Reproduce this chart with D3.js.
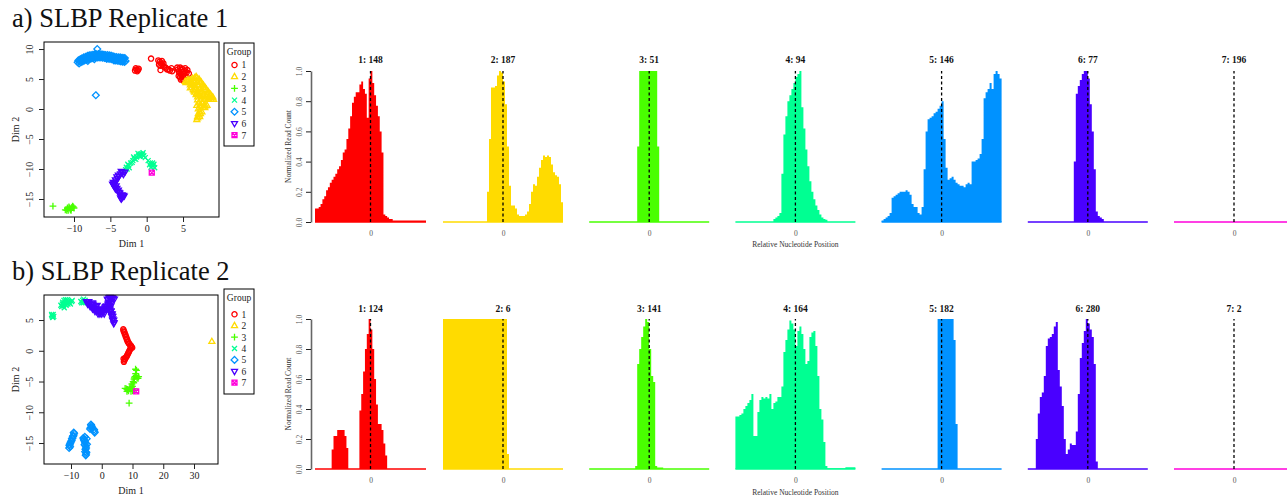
<!DOCTYPE html>
<html>
<head>
<meta charset="utf-8">
<script src="https://cdn.jsdelivr.net/npm/d3@7"></script>
<style>
  body { margin: 0; background: #fff; }
  svg { display: block; }
  svg text { font-family: "Liberation Serif", "Times New Roman", "DejaVu Serif", serif; }
</style>
</head>
<body>
<svg id="fig" width="1287" height="498" font-family="Liberation Serif, Times New Roman, serif"></svg>
<script>
// ---------------- data ----------------
const groups = ["1", "2", "3", "4", "5", "6", "7"];
const groupColors = ["#FF0000", "#FFDB00", "#49FF00", "#00FF92", "#0092FF", "#4900FF", "#FF00DB"];
const groupSymbols = [1, 2, 3, 4, 5, 6, 7]; // R pch codes

const panelTitles = ["a) SLBP Replicate 1", "b) SLBP Replicate 2"];
const rep1Sizes = [148, 187, 51, 94, 146, 77, 196];
const rep2Sizes = [124, 6, 141, 164, 182, 280, 2];

const histTickLabels = [0];
const histYTicks = [0, 0.2, 0.4, 0.6, 0.8, 1.0];
const rep1XTicks = [-10, -5, 0, 5];
const rep1YTicks = [-15, -10, -5, 0, 5, 10];
const rep2XTicks = [-10, 0, 10, 20, 30];
const rep2YTicks = [-15, -10, -5, 0, 5];

// MDS coordinates, replicate 1 (one list per group)
const rep1Points = [
  [[-1.6,6.4],[-1.4,6.6],[-1.2,6.5],[-1.5,6.8],[-1.1,6.7],[-1.3,6.3],[0.6,8.4],[1.8,7.9],[2.0,7.6],[1.7,7.4],[2.2,7.3],[1.9,6.5],
   [2.6,6.9],[3.0,6.6],[3.5,6.3],[4.3,6.6],[4.6,6.9],[4.9,6.7],[5.2,6.4],[5.5,6.1],[5.8,5.9],[4.5,6.0],[4.8,5.6],[4.9,5.0],[5.1,4.7],[4.6,5.3],
   [1.6,8.1],[2.1,8.0],[2.3,7.6],[1.9,7.2],[2.4,7.0],[2.8,6.6],[3.2,6.4],[3.4,6.8],[4.2,6.9],[4.4,6.3],[4.7,6.5],[5.0,6.2],
   [5.3,6.8],[5.6,6.5],[5.1,5.9],[4.7,5.8],[5.3,5.6],[4.4,5.5],[4.7,4.9],[5.0,5.3]],
  [[5.3,4.6],[5.8,4.8],[6.3,5.1],[6.8,5.4],[7.2,5.0],[7.5,4.5],[7.8,4.0],[8.1,3.5],[8.4,3.0],[8.7,2.5],[9.0,2.0],[9.2,1.6],[8.6,1.6],
   [8.0,1.8],[7.5,2.2],[6.9,2.6],[6.5,3.0],[6.8,3.6],[7.3,3.3],[7.6,2.8],[6.2,4.2],[6.0,3.5],[7.0,1.5],[7.3,0.6],[7.8,0.3],[7.1,0.0],
   [7.6,-0.5],[7.2,-1.0],[7.0,-1.5],[6.9,-1.8],[8.1,0.5],[8.9,1.9],[6.6,4.6],
   [6.6,5.2],[6.9,5.2],[5.6,4.8],[6.0,4.8],[6.4,4.8],[7.2,4.8],[5.4,4.4],[5.9,4.4],[6.3,4.4],[7.0,4.4],[7.4,4.4],
   [6.0,4.0],[6.4,4.0],[7.1,4.0],[7.6,4.0],[6.2,3.6],[6.6,3.6],[7.8,3.6],[8.0,3.6],[6.4,3.2],[6.7,3.2],[7.0,3.2],[8.2,3.2],
   [6.6,2.8],[7.0,2.8],[7.4,2.8],[8.5,2.8],[6.8,2.4],[7.2,2.4],[7.8,2.4],[8.3,2.4],[8.8,2.4],[7.0,2.0],[7.6,2.0],[8.2,2.0],
   [8.6,2.0],[9.1,2.0],[7.4,1.6],[8.0,1.6],[8.4,1.6],[8.9,1.6],[7.2,1.0],[7.6,1.0],[6.9,0.6],[7.5,0.6],[7.9,0.6],[8.3,0.6],
   [7.4,0.2],[8.0,0.2],[7.3,-0.4],[7.1,-0.8],[7.4,-0.8],[7.0,-1.3],[7.3,-1.3]],
  [[-12.9,-16.2],[-11.2,-16.8],[-10.9,-16.6],[-10.6,-16.5],[-10.3,-16.4],[-10.0,-16.5],[-10.5,-16.8],[-10.2,-16.2],[-10.8,-16.9],
   [-10.7,-16.3],[-10.4,-16.6],[-10.1,-16.3],[-10.9,-16.5],[-11.0,-16.9],[-10.4,-16.9]],
  [[-2.8,-9.7],[-2.5,-9.4],[-2.2,-9.0],[-1.9,-8.6],[-1.7,-8.3],[-1.4,-8.0],[-1.1,-7.7],[-0.9,-7.5],[-0.6,-7.6],[-0.4,-7.8],
   [-0.2,-8.1],[0.2,-8.6],[0.5,-9.0],[0.7,-9.3],[0.9,-9.5],[1.1,-9.8],[-2.9,-10.1],
   [-2.7,-10.0],[-2.4,-9.8],[-2.6,-9.2],[-2.0,-8.9],[-1.8,-8.0],[-1.5,-8.4],[-1.2,-7.4],[-0.8,-7.9],[-0.5,-7.3],[-1.0,-7.9],
   [0.4,-9.3],[0.8,-9.0],[1.0,-9.2],[0.6,-9.7]],
  [[-9.5,7.8],[-9.2,8.0],[-8.9,8.2],[-8.6,8.3],[-8.3,8.5],[-8.0,8.6],[-7.7,8.7],[-7.4,8.6],[-7.1,8.8],[-6.8,8.7],[-6.5,8.9],
   [-6.2,8.8],[-5.9,8.9],[-5.6,8.7],[-5.3,8.8],[-5.0,8.6],[-4.7,8.5],[-4.4,8.4],[-4.1,8.3],[-3.8,8.5],[-3.5,8.4],[-3.2,8.2],
   [-3.0,8.5],[-2.9,8.0],[-3.3,8.0],[-8.1,8.0],[-7.2,8.3],[-5.5,8.4],[-4.5,8.1],[-6.8,10.0],[-7.0,2.3],
   [-9.4,8.1],[-9.15,8.3],[-8.9,8.45],[-8.65,8.6],[-8.4,8.7],[-8.15,8.85],[-7.9,8.95],[-7.65,9.0],[-7.4,9.05],[-7.15,9.1],
   [-6.9,9.1],[-6.65,9.15],[-6.4,9.1],[-6.15,9.1],[-5.9,9.05],[-5.65,9.0],[-5.4,9.0],[-5.15,8.95],[-4.9,8.9],[-4.65,8.8],
   [-4.4,8.7],[-4.15,8.65],[-3.9,8.6],[-3.65,8.6],[-3.4,8.55],[-3.15,8.5],
   [-9.3,7.6],[-9.05,7.8],[-8.8,7.95],[-8.55,8.1],[-8.3,8.2],[-8.05,8.3],[-7.8,8.4],[-7.55,8.45],[-7.3,8.5],[-7.05,8.55],
   [-6.8,8.6],[-6.55,8.6],[-6.3,8.6],[-6.05,8.55],[-5.8,8.5],[-5.55,8.45],[-5.3,8.4],[-5.05,8.35],[-4.8,8.3],[-4.55,8.2],
   [-4.3,8.1],[-4.05,8.05],[-3.8,8.0],[-3.55,7.95],[-3.3,7.9],[-3.05,7.85]],
  [[-3.0,-10.5],[-3.3,-10.6],[-3.6,-10.8],[-3.8,-11.2],[-4.0,-11.6],[-4.2,-12.0],[-4.4,-12.4],[-4.5,-12.8],[-4.3,-13.3],
   [-4.0,-13.7],[-3.7,-14.0],[-3.4,-14.3],[-3.3,-14.7],[-3.5,-15.0],[-4.6,-12.6],[-3.9,-13.5],
   [-3.2,-10.9],[-3.5,-10.4],[-3.9,-11.0],[-4.1,-11.3],[-4.3,-11.8],[-4.6,-12.2],[-4.7,-12.5],[-4.2,-12.8],[-4.4,-13.0],
   [-4.1,-13.2],[-3.8,-13.9],[-3.6,-14.4],[-3.2,-14.4],[-3.4,-14.7],[-3.6,-14.8],[-3.1,-14.5]],
  [[0.7,-10.6]]
];

// MDS coordinates, replicate 2 (one list per group)
const rep2Points = [
  [[7.0,3.5],[7.2,3.1],[7.5,2.7],[7.8,2.3],[8.1,1.9],[8.4,1.5],[8.8,1.2],[9.3,0.9],[9.7,0.6],[9.2,0.2],[8.8,-0.2],[8.4,-0.6],
   [8.0,-1.0],[7.6,-1.3],[7.3,-1.6],
   [7.1,3.3],[7.4,3.0],[7.7,2.6],[8.0,2.2],[8.3,1.8],[8.6,1.4],[9.0,1.1],[9.5,0.8],[9.9,0.5],[9.4,0.4],[9.0,0.0],[8.6,-0.4],
   [8.2,-0.8],[7.8,-1.1],[7.5,-1.4],[7.2,-1.8],[7.1,-1.3]],
  [[35.8,1.5]],
  [[11.3,-3.2],[11.0,-3.7],[10.8,-4.2],[10.5,-4.6],[11.5,-4.4],[12.0,-4.2],[10.2,-5.0],[9.8,-5.4],[9.5,-5.9],[9.0,-6.2],
   [8.4,-6.3],[7.6,-6.1],[8.2,-6.6],[10.0,-6.5],[8.9,-8.5],
   [11.0,-3.0],[11.2,-4.0],[10.6,-4.4],[11.8,-4.5],[10.4,-5.2],[10.0,-5.8],[9.2,-6.0],[8.7,-6.5],[9.5,-6.6],[8.0,-6.2],[10.5,-6.2]],
  [[-16.2,5.7],[-15.8,5.9],[-16.0,5.5],[-15.6,5.6],[-16.3,5.9],[-15.9,5.4],
   [-13.0,7.2],[-12.5,7.5],[-12.0,7.8],[-11.5,8.1],[-12.2,7.0],[-11.0,7.6],[-10.5,7.8],[-9.8,8.0],[-11.8,8.3],[-12.8,7.6],
   [-13.3,7.4],[-12.7,7.9],[-12.3,8.2],[-11.6,7.4],[-11.2,8.3],[-10.8,8.0],[-10.2,7.6],[-9.6,8.2],[-12.4,7.3],
   [-6.8,8.0],[-6.2,8.2],[-5.6,8.0],[-6.0,7.8],[-6.5,7.8],[-5.9,8.4],[-5.4,8.2]],
  [[-10.5,-15.4],[-10.2,-15.0],[-9.8,-14.6],[-9.5,-14.2],[-9.2,-13.8],[-9.0,-13.5],[-10.6,-15.8],[-6.0,-14.2],[-5.7,-14.6],
   [-5.4,-15.0],[-5.2,-15.5],[-5.3,-16.0],[-5.0,-16.5],[-5.2,-17.0],[-5.5,-14.0],[-4.9,-14.3],[-3.5,-12.0],[-3.2,-12.4],
   [-3.8,-12.7],[-2.3,-13.3],[-2.5,-12.8],
   [-10.4,-15.2],[-10.0,-14.8],[-9.7,-14.3],[-9.4,-13.9],[-9.1,-13.3],[-10.3,-15.6],[-5.8,-14.4],[-5.5,-14.8],[-5.6,-15.3],
   [-5.1,-15.8],[-5.4,-16.4],[-5.1,-16.8],[-4.8,-15.2],[-3.4,-12.2],[-3.6,-12.5],[-2.4,-13.1],[-3.0,-12.6]],
  [[-5.0,8.0],[-4.5,7.8],[-4.0,7.6],[-3.5,7.3],[-3.0,7.1],[-2.5,6.9],[-2.0,6.7],[-1.5,6.5],[-1.0,6.5],[-0.5,6.2],[0.0,6.4],
   [0.5,6.7],[1.0,7.0],[1.5,7.3],[2.0,7.6],[2.5,7.0],[3.0,6.5],[3.3,5.8],[3.6,5.2],[4.0,4.6],[2.0,8.3],[2.8,8.5],[3.5,8.6],
   [2.4,7.9],[-3.0,7.8],[-1.5,7.4],[0.8,6.0],[3.0,7.3],
   [-4.8,8.0],[-4.2,8.0],[-4.6,7.6],[-4.0,7.6],[-3.4,7.6],[-2.8,7.6],[-3.8,7.2],[-3.2,7.2],[-2.6,7.2],[-2.0,7.2],[1.2,7.2],
   [1.8,7.2],[2.4,7.2],[-3.0,6.8],[-2.4,6.8],[-1.8,6.8],[-1.2,6.8],[0.3,6.8],[0.9,6.8],[1.5,6.8],[2.1,6.8],[2.7,6.8],
   [-2.2,6.4],[-1.6,6.4],[-1.0,6.4],[-0.4,6.4],[0.2,6.4],[0.8,6.4],[2.6,6.4],[3.0,6.4],[-1.2,6.0],[-0.6,6.0],[0.0,6.0],
   [3.0,6.0],[3.4,6.0],[3.2,5.6],[3.6,5.6],[3.5,5.0],[3.9,5.0],[3.9,4.4],[1.8,8.4],[2.3,8.6],[2.7,8.7],[3.2,8.6],[3.7,8.5],
   [4.1,8.4],[2.2,7.8],[2.6,7.8],[3.1,7.8]],
  [[11.2,-6.6]]
];

// Normalized read count per position bin (60 bins, centred on 0), replicate 1
const rep1Counts = [
  [0.09,0.09,0.10,0.12,0.15,0.17,0.21,0.23,0.26,0.28, 0.30,0.32,0.35,0.37,0.41,0.46,0.48,0.55,0.62,0.70,
   0.79,0.83,0.86,0.86,0.91,0.93,0.88,0.85,0.69,0.95, 1.00,0.92,0.84,0.77,0.70,0.60,0.46,0.05,0.04,0.03,
   0.02,0.02,0.01,0.01,0.01,0.01,0.01,0.01,0.01,0.01, 0.01,0.01,0.01,0.01,0.01,0.01,0.01,0.01,0.01,0.01],
  [0,0,0,0,0,0,0,0,0,0, 0,0,0,0,0,0,0,0,0,0,
   0,0,0.20,0.55,0.89,0.89,0.90,0.97,1.00,0.99, 0.93,0.78,0.50,0.24,0.11,0.11,0.09,0.05,0.04,0.04,
   0.04,0.05,0.07,0.12,0.20,0.25,0.24,0.30,0.36,0.41, 0.44,0.43,0.44,0.43,0.38,0.33,0.31,0.30,0.25,0.13],
  [0,0,0,0,0,0,0,0,0,0, 0,0,0,0,0,0,0,0,0,0,
   0,0,0,0,0.50,1,1,1,1,1, 1,1,1,1,0.50,0,0,0,0,0,
   0,0,0,0,0,0,0,0,0,0, 0,0,0,0,0,0,0,0,0,0],
  [0,0,0,0,0,0,0,0,0,0, 0,0,0,0,0,0,0,0,0,0.02,
   0.03,0.04,0.06,0.32,0.58,0.70,0.80,0.84,0.88,0.92, 0.96,0.98,1.00,0.76,0.62,0.48,0.37,0.27,0.20,0.15,
   0.11,0.08,0.05,0.03,0.02,0.015,0,0,0,0, 0,0,0,0,0,0,0,0,0,0],
  [0.01,0.02,0.03,0.04,0.06,0.16,0.17,0.18,0.19,0.20, 0.20,0.20,0.21,0.20,0.18,0.12,0.10,0.10,0.06,0.05,
   0.10,0.35,0.60,0.68,0.69,0.70,0.72,0.73,0.75,0.77, 0.80,0.55,0.36,0.28,0.29,0.30,0.28,0.26,0.25,0.24,
   0.24,0.23,0.25,0.26,0.25,0.40,0.40,0.41,0.42,0.45, 0.55,0.82,0.86,0.88,0.92,0.88,0.98,1.00,0.98,0.95],
  [0,0,0,0,0,0,0,0,0,0, 0,0,0,0,0,0,0,0,0,0,
   0,0,0,0.40,0.85,0.90,0.94,0.98,1.00,1.00, 0.95,0.78,0.60,0.35,0.07,0.04,0.03,0.02,0,0,
   0,0,0,0,0,0,0,0,0,0, 0,0,0,0,0,0,0,0,0,0],
  [0,0,0,0,0,0,0,0,0,0, 0,0,0,0,0,0,0,0,0,0,
   0,0,0,0,0,0,0,0,0,0, 0,0,0,0,0,0,0,0,0,0,
   0,0,0,0,0,0,0,0,0,0, 0,0,0,0,0,0,0,0,0,0]
];

// Normalized read count per position bin, replicate 2
const rep2Counts = [
  [0,0,0,0,0,0,0,0,0,0.13, 0.22,0.22,0.26,0.26,0.26,0.26,0.22,0.14,0,0,
   0,0,0,0,0.39,0.50,0.65,0.80,0.90,1.00, 0.93,0.80,0.60,0.43,0.30,0.30,0.26,0.17,0.09,0,
   0,0,0,0,0,0,0,0,0,0, 0,0,0,0,0,0,0,0,0,0],
  [1,1,1,1,1,1,1,1,1,1, 1,1,1,1,1,1,1,1,1,1,
   1,1,1,1,1,1,1,1,1,1, 1,1,0.10,0,0,0,0,0,0,0,
   0,0,0,0,0,0,0,0,0,0, 0,0,0,0,0,0,0,0,0,0],
  [0,0,0,0,0,0,0,0,0,0, 0,0,0,0,0,0,0,0,0,0,
   0,0,0,0.02,0.70,0.80,0.88,0.95,1.00,0.98, 0.80,0.62,0.58,0.02,0.01,0.01,0.01,0,0,0,
   0,0,0,0,0,0,0,0,0,0, 0,0,0,0,0,0,0,0,0,0],
  [0.35,0.35,0.36,0.37,0.40,0.42,0.44,0.46,0.50,0.22, 0.22,0.38,0.46,0.48,0.47,0.48,0.47,0.50,0.40,0.44,
   0.45,0.48,0.48,0.55,0.78,0.86,0.93,0.99,0.97,0.93, 0.82,0.92,0.95,0.90,0.80,0.70,0.72,0.88,0.91,0.92,
   0.82,0.62,0.40,0.33,0.18,0.02,0.005,0.005,0.005,0.005, 0.005,0.005,0.005,0.005,0.005,0.012,0.012,0.012,0.012,0.012],
  [0,0,0,0,0,0,0,0,0,0, 0,0,0,0,0,0,0,0,0,0,
   0,0,0,0,0,0,0,0,1,1, 1,1,1,1,1,1,0.86,0.30,0,0,
   0,0,0,0,0,0,0,0,0,0, 0,0,0,0,0,0,0,0,0,0],
  [0,0,0,0,0.20,0.37,0.48,0.51,0.62,0.82, 0.87,0.88,0.90,0.95,0.98,0.66,0.55,0.42,0.20,0.10,
   0.13,0.17,0.16,0.16,0.25,0.50,0.74,0.84,0.92,1.00, 0.97,0.93,0.88,0.70,0.05,0,0,0,0,0,
   0,0,0,0,0,0,0,0,0,0, 0,0,0,0,0,0,0,0,0,0],
  [0,0,0,0,0,0,0,0,0,0, 0,0,0,0,0,0,0,0,0,0,
   0,0,0,0,0,0,0,0,0,0, 0,0,0,0,0,0,0,0,0,0,
   0,0,0,0,0,0,0,0,0,0, 0,0,0,0,0,0,0,0,0,0]
];

// ---------------- layout ----------------
const FONT = "Liberation Serif, Times New Roman, serif";
const svg = d3.select("#fig");
const minus = d => (d < 0 ? "\u2212" + Math.abs(d) : String(d));
const POS_HALF = 60, BIN_W = 2;

const rows = [
  {
    title: panelTitles[0], titleBase: 27,
    pts: rep1Points, counts: rep1Counts, sizes: rep1Sizes,
    box: { l: 44, r: 219, t: 42, b: 217 },
    xDom: [-14.13, 9.95], yDom: [-18.0, 11.17], xTicks: rep1XTicks, yTicks: rep1YTicks,
    leg: { l: 224, r: 254, t: 43, b: 146, titleY: 52, row0: 65, step: 11.7 },
    hist: { y0: 222, y1: 71, titleBase: 63, tickBase: 235.5, labelBase: 247 }
  },
  {
    title: panelTitles[1], titleBase: 280,
    pts: rep2Points, counts: rep2Counts, sizes: rep2Sizes,
    box: { l: 44, r: 218, t: 295, b: 464 },
    xDom: [-18.78, 37.8], yDom: [-18.41, 9.07], xTicks: rep2XTicks, yTicks: rep2YTicks,
    leg: { l: 224, r: 254, t: 289, b: 394, titleY: 298, row0: 314.3, step: 11.4 },
    hist: { y0: 469, y1: 319, titleBase: 312, tickBase: 482.5, labelBase: 495 }
  }
];

function histRange(i) {
  if (i === 0) return [315, 426];
  const c = 503 + 146.2 * (i - 1);
  return [c - 60, c + 60];
}

// R plotting symbols
function markerPath(pch) {
  const p = d3.path();
  switch (pch) {
    case 1: p.moveTo(2.6, 0); p.arc(0, 0, 2.6, 0, 2 * Math.PI); break;
    case 2: p.moveTo(0, -3.3); p.lineTo(3.0, 1.9); p.lineTo(-3.0, 1.9); p.closePath(); break;
    case 3: p.moveTo(-3.4, 0); p.lineTo(3.4, 0); p.moveTo(0, -3.4); p.lineTo(0, 3.4); break;
    case 4: p.moveTo(-2.5, -2.5); p.lineTo(2.5, 2.5); p.moveTo(-2.5, 2.5); p.lineTo(2.5, -2.5); break;
    case 5: p.moveTo(0, -3.4); p.lineTo(3.4, 0); p.lineTo(0, 3.4); p.lineTo(-3.4, 0); p.closePath(); break;
    case 6: p.moveTo(0, 3.3); p.lineTo(3.0, -1.9); p.lineTo(-3.0, -1.9); p.closePath(); break;
    case 7: p.rect(-2.5, -2.5, 5, 5); p.moveTo(-2.5, -2.5); p.lineTo(2.5, 2.5); p.moveTo(-2.5, 2.5); p.lineTo(2.5, -2.5); break;
  }
  return p.toString();
}

function txt(sel) { return sel.append("text").attr("font-family", FONT); }

rows.forEach(row => {
  // ---- panel title ----
  txt(svg).attr("x", 12).attr("y", row.titleBase)
    .attr("font-size", 26.5).attr("fill", "#111").text(row.title);

  // ---- MDS scatter ----
  const b = row.box;
  const xs = d3.scaleLinear().domain(row.xDom).range([b.l, b.r]);
  const ys = d3.scaleLinear().domain(row.yDom).range([b.b, b.t]);
  const g = svg.append("g");

  row.pts.forEach((list, gi) => {
    g.append("g").selectAll("path").data(list).join("path")
      .attr("transform", d => `translate(${xs(d[0])},${ys(d[1])})`)
      .attr("d", markerPath(groupSymbols[gi]))
      .attr("fill", "none").attr("stroke", groupColors[gi]).attr("stroke-width", 1.3);
  });

  g.append("rect").attr("x", b.l).attr("y", b.t).attr("width", b.r - b.l).attr("height", b.b - b.t)
    .attr("fill", "none").attr("stroke", "#000").attr("stroke-width", 1);

  const xAx = g.append("g").attr("transform", `translate(0,${b.b})`)
    .call(d3.axisBottom(xs).tickValues(row.xTicks).tickSize(5).tickSizeOuter(0).tickFormat(minus));
  xAx.attr("font-family", FONT);
  xAx.select(".domain").remove();
  xAx.selectAll("text").attr("font-size", 10).attr("font-family", FONT)
    .attr("fill", "#222").attr("y", 15).attr("dy", 0);
  xAx.selectAll("line").attr("stroke", "#222");

  const yAx = g.append("g").attr("transform", `translate(${b.l},0)`)
    .call(d3.axisLeft(ys).tickValues(row.yTicks).tickSize(5).tickSizeOuter(0).tickFormat(minus));
  yAx.attr("font-family", FONT);
  yAx.select(".domain").remove();
  yAx.selectAll("text").attr("font-size", 10).attr("font-family", FONT)
    .attr("fill", "#222").attr("x", 0).attr("dy", 0).attr("text-anchor", "middle")
    .attr("transform", "translate(-11.5,0) rotate(-90)");
  yAx.selectAll("line").attr("stroke", "#222");

  txt(g).attr("x", (b.l + b.r) / 2).attr("y", b.b + 29.5).attr("text-anchor", "middle")
    .attr("font-size", 10).attr("fill", "#222").text("Dim 1");
  txt(g).attr("transform", `translate(18.5,${(b.t + b.b) / 2}) rotate(-90)`)
    .attr("text-anchor", "middle").attr("font-size", 10).attr("fill", "#222").text("Dim 2");

  // ---- legend ----
  const L = row.leg;
  const lg = svg.append("g");
  lg.append("rect").attr("x", L.l).attr("y", L.t).attr("width", L.r - L.l).attr("height", L.b - L.t)
    .attr("fill", "#fff").attr("stroke", "#000").attr("stroke-width", 1);
  txt(lg).attr("x", (L.l + L.r) / 2).attr("y", L.titleY + 3.3).attr("text-anchor", "middle")
    .attr("font-size", 9.5).attr("fill", "#222").text("Group");
  groups.forEach((name, i) => {
    const cy = L.row0 + L.step * i;
    lg.append("path").attr("transform", `translate(${L.l + 10.5},${cy})`)
      .attr("d", markerPath(groupSymbols[i])).attr("fill", "none")
      .attr("stroke", groupColors[i]).attr("stroke-width", 1.3);
    txt(lg).attr("x", L.l + 17.5).attr("y", cy + 3.4)
      .attr("font-size", 9.5).attr("fill", "#222").text(name);
  });

  // ---- position histograms ----
  const H = row.hist;
  const hy = d3.scaleLinear().domain([0, 1]).range([H.y0, H.y1]);
  row.counts.forEach((vals, i) => {
    const hx = d3.scaleLinear().domain([-POS_HALF, POS_HALF]).range(histRange(i));
    const pg = svg.append("g");
    const series = vals.map((v, k) => [-POS_HALF + BIN_W * k, v]);
    series.push([POS_HALF, vals[vals.length - 1]]);

    pg.append("path").datum(series)
      .attr("d", d3.area().x(d => hx(d[0])).y0(hy(0)).y1(d => hy(d[1])).curve(d3.curveStepAfter))
      .attr("fill", groupColors[i]);

    pg.append("line").attr("x1", hx(-POS_HALF)).attr("x2", hx(POS_HALF))
      .attr("y1", hy(0)).attr("y2", hy(0))
      .attr("stroke", groupColors[i]).attr("stroke-width", 1.5);

    pg.append("line").attr("x1", hx(0)).attr("x2", hx(0)).attr("y1", hy(0)).attr("y2", hy(1))
      .attr("stroke", "#000").attr("stroke-width", 1.3).attr("stroke-dasharray", "3,2.5");

    txt(pg).attr("x", hx(0)).attr("y", H.titleBase).attr("text-anchor", "middle")
      .attr("font-size", 9.5).attr("font-weight", "bold").attr("fill", "#111")
      .text(`${groups[i]}: ${row.sizes[i]}`);

    const xa = pg.append("g").attr("transform", `translate(0,${H.y0})`)
      .call(d3.axisBottom(hx).tickValues(histTickLabels).tickSize(0).tickFormat(d3.format("d")));
    xa.attr("font-family", FONT);
    xa.select(".domain").remove();
    xa.selectAll("text").attr("font-size", 7.5).attr("font-family", FONT)
      .attr("fill", "#555").attr("y", H.tickBase - H.y0).attr("dy", 0);

    if (i === 0) {
      const ya = pg.append("g").attr("transform", `translate(311,0)`)
        .call(d3.axisLeft(hy).tickValues(histYTicks).tickSize(5).tickSizeOuter(0).tickFormat(d3.format(".1f")));
      ya.attr("font-family", FONT);
      ya.select(".domain").attr("stroke", "#666").attr("stroke-width", 1.6);
      ya.selectAll("line").attr("stroke", "#222");
      ya.selectAll("text").attr("font-size", 7.5).attr("font-family", FONT)
        .attr("fill", "#555").attr("x", 0).attr("dy", 0).attr("text-anchor", "middle")
        .attr("transform", "translate(-9.5,0) rotate(-90)");
      txt(pg).attr("transform", `translate(290.5,${(H.y0 + H.y1) / 2}) rotate(-90)`)
        .attr("text-anchor", "middle").attr("font-size", 7.5).attr("fill", "#333")
        .text("Normalized Read Count");
    }
    if (i === 3) {
      txt(pg).attr("x", hx(0)).attr("y", H.labelBase).attr("text-anchor", "middle")
        .attr("font-size", 7.5).attr("fill", "#333").text("Relative Nucleotide Position");
    }
  });
});
</script>
</body>
</html>
